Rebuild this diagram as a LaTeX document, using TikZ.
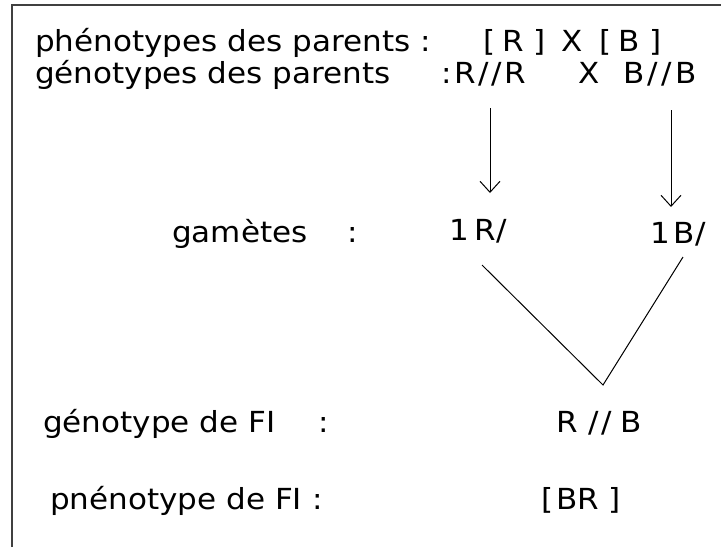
\documentclass[tikz,border=0pt]{standalone}
\usepackage{fontspec}
\setmainfont{DejaVu Sans}[FakeStretch=1.07]
\usetikzlibrary{arrows.meta}

\begin{document}
\begin{tikzpicture}[x=1pt,y=-1pt,
txt/.style={anchor=base west,inner sep=0pt,font=\fontsize{29}{34}\selectfont},
arr/.style={line width=1pt,-{Straight Barb[length=11pt,width=20pt]}},
cross/.style={line width=1pt}]
\useasboundingbox (0,0) rectangle (721,547);
\draw [line width=2.2pt,black!75] (12,547) -- (12,5) -- (721,5);
% parents
\node (phen) [txt] at (35,51) {phénotypes des parents :};
\node (phenval) [txt] at (483,51) {[\hspace{7pt}R\hspace{10pt}]\hspace{16pt}X\hspace{16pt}[\hspace{7pt}B\hspace{10pt}]};
\node (gen) [txt] at (35,83) {génotypes des parents};
\node (rr) [txt] at (441,83) {:\hspace{3pt}R\hspace{2pt}/\hspace{3pt}/\hspace{2pt}R};
\node (xx) [txt] at (578,83) {X};
\node (bb) [txt] at (623,83) {B\hspace{3pt}/\hspace{4pt}/\hspace{3pt}B};
% gametes
\node (gam) [txt] at (172,242) {gamètes};
\node (gamcol) [txt] at (347,242) {:};
\node (gamR) [txt] at (449,240) {1\hspace{6pt}R/};
\node (gamB) [txt] at (650,243) {1\hspace{4pt}B/};
\coordinate (aR1) at (490,108);
\coordinate (aR2) at (490,193);
\coordinate (aB1) at (671,110);
\coordinate (aB2) at (671,207);
\draw [arr] (aR1) -- (aR2);
\draw [arr] (aB1) -- (aB2);
\coordinate (vL) at (482,265);
\coordinate (vB) at (603,385);
\coordinate (vR) at (683,257);
\draw [cross] (vL) -- (vB) -- (vR);
% F1
\node (fgen) [txt] at (43,432) {génotype de FI};
\node (fgencol) [txt] at (318,432) {:};
\node (fgenval) [txt] at (556,432) {R\hspace{11pt}/\hspace{2pt}/\hspace{9pt}B};
\node (fphen) [txt] at (50,509) {pnénotype de FI :};
\node (fphenval) [txt] at (541,509) {[\hspace{3pt}BR\hspace{9pt}]};
\end{tikzpicture}
\end{document}
